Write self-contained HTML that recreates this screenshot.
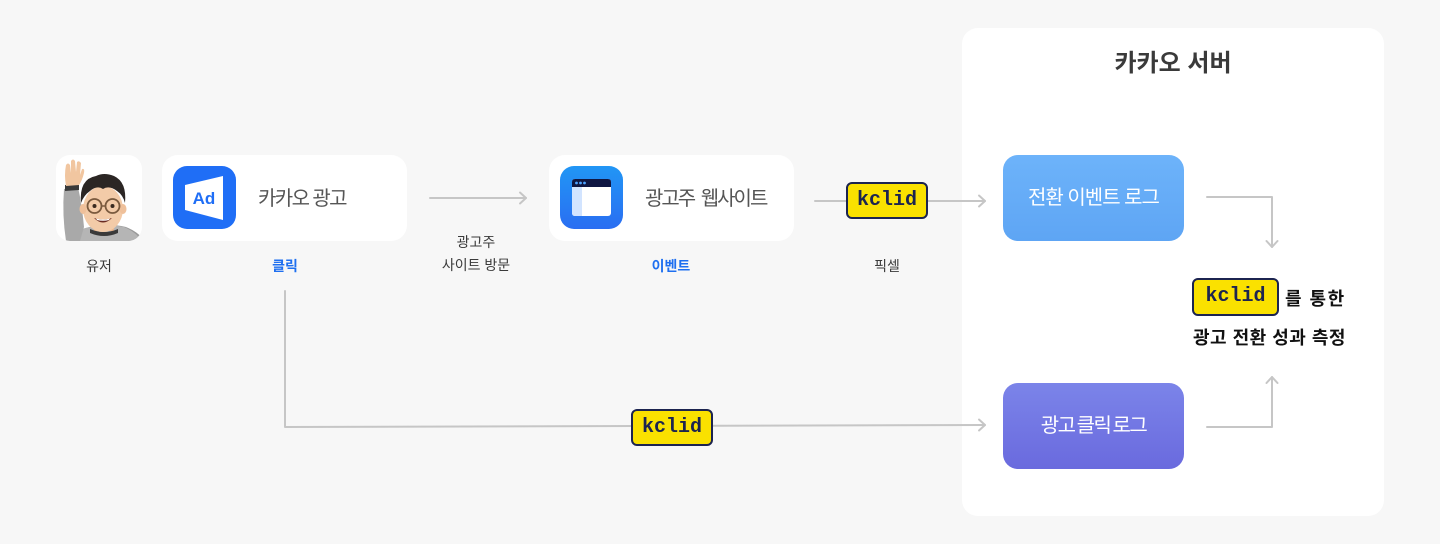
<!DOCTYPE html>
<html><head><meta charset="utf-8">
<style>
*{margin:0;padding:0;box-sizing:border-box}
html,body{width:1440px;height:544px;overflow:hidden;background:#f7f7f7;font-family:"Liberation Sans","Noto Sans CJK KR",sans-serif}
.card{position:absolute;background:#fff;border-radius:16px}
.t{position:absolute;white-space:nowrap}
.badge{position:absolute;background:#fae100;border:2px solid #1c2450;border-radius:6px;font-family:"Liberation Mono",monospace;font-weight:bold;font-size:20px;color:#1c2450;text-align:center}
.lbl{position:absolute;white-space:nowrap;font-size:14px;color:#3a3a3a;text-align:center;line-height:20px}
.blue{color:#1e6ff0;font-weight:bold}
.box{position:absolute;border-radius:15px;color:#fff;font-size:20px;text-align:center;line-height:86px;white-space:nowrap}
</style></head><body>

<!-- server panel -->
<div class="card" style="left:962px;top:28px;width:422px;height:488px;"></div>
<div class="t" style="left:962px;top:46px;width:422px;height:36px;line-height:36px;text-align:center;font-size:24px;font-weight:bold;color:#3a3a3a;letter-spacing:0px;">카카오 서버</div>

<!-- connectors -->
<svg style="position:absolute;left:0;top:0" width="1440" height="544" viewBox="0 0 1440 544">
  <g fill="none" stroke="#c6c6c6" stroke-width="2" stroke-linejoin="round" stroke-linecap="round">
    <line x1="430" y1="198" x2="526" y2="198"/>
    <polyline points="520,192.5 526,198 520,203.5"/>
    <line x1="815" y1="201" x2="985" y2="201"/>
    <polyline points="979,195.5 985,201 979,206.5"/>
    <polyline points="285,291 285,427 985,425"/>
    <polyline points="979,419.5 985,425 979,430.5"/>
    <polyline points="1207,197 1272,197 1272,247"/>
    <polyline points="1266.5,241 1272,247 1277.5,241"/>
    <polyline points="1207,427 1272,427 1272,377"/>
    <polyline points="1266.5,383 1272,377 1277.5,383"/>
  </g>
</svg>

<!-- user card -->
<div class="card" style="left:56px;top:155px;width:86px;height:86px;border-radius:14px;overflow:hidden;">
  <svg width="86" height="86" viewBox="0 0 86 86">
    <!-- body -->
    <path d="M22 76 Q45 66 70 72 Q84 78 88 86 L18 86 Z" fill="#9a9a9a"/>
    <path d="M26 74 Q45 68 68 72 Q80 77 86 86 L22 86 Z" fill="#b5b5b5"/>
    <!-- arm -->
    <path d="M8 34 L22 32 Q26 50 28 72 L24 86 L10 86 Q6 60 8 34 Z" fill="#a9a9a9"/>
    <path d="M9 30 L23 29 L23 35 L9 36 Z" fill="#3a3a3a"/>
    <!-- hand -->
    <path d="M10 31 Q8 20 10 10 Q12 7 14 10 L15 18 L15 6 Q17 3 19 6 L20 17 L21 7 Q23 5 25 8 L24 20 L26 14 Q29 13 28 18 Q26 26 23 30 Z" fill="#f1c6a0"/>
    <!-- neck -->
    <rect x="38" y="66" width="20" height="10" fill="#e8b58e"/>
    <path d="M34 74 Q48 80 62 74 L62 78 Q48 84 34 78 Z" fill="#3a3a3a"/>
    <!-- face -->
    <ellipse cx="47" cy="54" rx="20" ry="23" fill="#f3cba8"/>
    <ellipse cx="27" cy="54" rx="3.5" ry="5" fill="#efc09a"/>
    <ellipse cx="67" cy="54" rx="3.5" ry="5" fill="#efc09a"/>
    <!-- hair -->
    <path d="M25 48 Q23 24 40 21 Q48 17 58 21 Q71 27 69 48 Q67 40 61 36 Q53 30 47 34 Q41 30 34 36 Q28 40 25 48 Z" fill="#2b2624"/>
    <!-- glasses -->
    <circle cx="38.5" cy="51" r="7" fill="none" stroke="#7a5a3e" stroke-width="1.8"/>
    <circle cx="56.5" cy="51" r="7" fill="none" stroke="#7a5a3e" stroke-width="1.8"/>
    <line x1="45.5" y1="51" x2="49.5" y2="51" stroke="#7a5a3e" stroke-width="1.6"/>
    <circle cx="38.5" cy="51" r="2" fill="#3a2a20"/>
    <circle cx="56.5" cy="51" r="2" fill="#3a2a20"/>
    <!-- mouth -->
    <path d="M38 63 Q47 72 56 63 Q47 66 38 63 Z" fill="#6b2c22"/>
    <path d="M40 63.5 Q47 65.5 54 63.5 L53 65 Q47 66.5 41 65 Z" fill="#fff"/>
  </svg>
</div>

<!-- ad card -->
<div class="card" style="left:162px;top:155px;width:245px;height:86px;"></div>
<div style="position:absolute;left:173px;top:166px;width:63px;height:63px;border-radius:14px;background:#1f6ef6;">
  <svg width="63" height="63" viewBox="0 0 63 63">
    <polygon points="12,19 50,10 50,54 12,44" fill="#fff"/>
    <text x="31" y="38" text-anchor="middle" font-family="Liberation Sans, sans-serif" font-weight="bold" font-size="17" fill="#1f6ef6">Ad</text>
  </svg>
</div>
<div class="t" style="left:258px;top:184px;line-height:30px;font-size:20px;color:#555;letter-spacing:-1.6px;">카카오 광고</div>

<!-- website card -->
<div class="card" style="left:549px;top:155px;width:245px;height:86px;"></div>
<div style="position:absolute;left:560px;top:166px;width:63px;height:63px;border-radius:14px;background:linear-gradient(#2196f5,#2a6ef2);">
  <svg width="63" height="63" viewBox="0 0 63 63">
    <rect x="12" y="13" width="39" height="37" rx="3" fill="#fff"/>
    <path d="M12 21 L22 21 L22 50 L15 50 Q12 50 12 47 Z" fill="#d2e4ff"/>
    <path d="M15 13 L48 13 Q51 13 51 16 L51 21 L12 21 L12 16 Q12 13 15 13 Z" fill="#0f1642"/>
    <circle cx="16.5" cy="17" r="1.4" fill="#4ea3ff"/>
    <circle cx="20.5" cy="17" r="1.4" fill="#4ea3ff"/>
    <circle cx="24.5" cy="17" r="1.4" fill="#4ea3ff"/>
  </svg>
</div>
<div class="t" style="left:645px;top:184px;line-height:30px;font-size:20px;color:#555;letter-spacing:-2.0px;word-spacing:3px;">광고주 웹사이트</div>

<!-- labels -->
<div class="lbl" style="left:59px;top:256px;width:80px;">유저</div>
<div class="lbl blue" style="left:245px;top:256px;width:80px;">클릭</div>
<div class="lbl" style="left:416px;top:232px;width:120px;">광고주</div>
<div class="lbl" style="left:416px;top:255px;width:120px;">사이트 방문</div>
<div class="lbl blue" style="left:631px;top:256px;width:80px;">이벤트</div>
<div class="lbl" style="left:847px;top:256px;width:80px;">픽셀</div>

<!-- badges -->
<div class="badge" style="left:846px;top:182px;width:82px;height:37px;line-height:33px;">kclid</div>
<div class="badge" style="left:631px;top:409px;width:82px;height:37px;line-height:33px;">kclid</div>
<div class="badge" style="left:1192px;top:278px;width:87px;height:38px;line-height:34px;">kclid</div>

<!-- server boxes -->
<div class="box" style="left:1003px;top:155px;width:181px;height:86px;background:linear-gradient(#6db3fa,#5ea5f4);letter-spacing:-1px;">전환 이벤트 로그</div>
<div class="box" style="left:1003px;top:383px;width:181px;height:86px;background:linear-gradient(#7b84e9,#6a6ade);letter-spacing:-1.5px;word-spacing:-2px;">광고 클릭 로그</div>

<!-- result text -->
<div class="t" style="left:1285px;top:286px;line-height:26px;font-size:18px;font-weight:bold;color:#111;letter-spacing:1.5px;">를 통한</div>
<div class="t" style="left:1193px;top:325px;line-height:26px;font-size:18px;font-weight:bold;color:#111;letter-spacing:0.5px;">광고 전환 성과 측정</div>

</body></html>
